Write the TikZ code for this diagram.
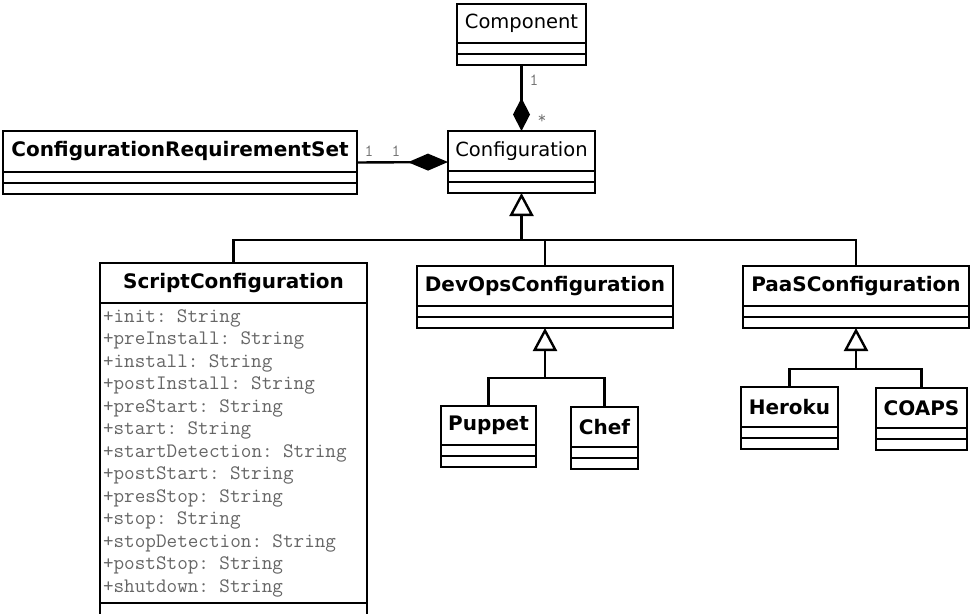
\documentclass[tikz,border=0pt]{standalone}
\usepackage{fontspec}
\setmainfont{DejaVu Sans}
\usetikzlibrary{arrows.meta, positioning, calc}

\begin{document}
\begin{tikzpicture}[
          x=1pt, y=-1pt,
          cls/.style={draw, line width=2.4pt, outer sep=0pt, inner sep=0pt, minimum height=40pt, font=\fontsize{19.5}{23}\selectfont},
          bcls/.style={cls, font=\fontsize{20}{23}\selectfont\bfseries},
          part/.style={draw, line width=2.4pt, outer sep=0pt, inner sep=0pt, minimum height=11pt},
          attrs/.style={draw, line width=2.4pt, outer sep=0pt, inner sep=3pt, text width=261pt, minimum height=300pt, align=left, text=black!60, font=\ttfamily\fontsize{20.6}{22.5}\selectfont},
          mult/.style={inner sep=0pt, text=black!55, font=\ttfamily\fontsize{17}{17}\selectfont},
          line/.style={line width=2.4pt},
          inherit/.style={line, -{Triangle[open, width=24pt, length=23pt]}},
          compose/.style={line, -{Diamond[width=17pt, length=#1]}}
        ]
          \useasboundingbox (0,0) rectangle (971,613);

          % top of the hierarchy
          \node[cls, minimum width=129pt, minimum height=39pt, anchor=north west] (component) at (457,4) {Component};
          \node[part, minimum width=129pt, below=0pt of component] (componentA) {};
          \node[part, minimum width=129pt, below=0pt of componentA] (componentO) {};

          \node[cls, minimum width=147pt, anchor=north west] (configuration) at (448,131) {Configuration};
          \node[part, minimum width=147pt, below=0pt of configuration] (configurationA) {};
          \node[part, minimum width=147pt, below=0pt of configurationA] (configurationO) {};

          \node[bcls, minimum width=354pt, minimum height=41pt, anchor=north west] (reqset) at (3,131) {ConfigurationRequirementSet};
          \node[part, minimum width=354pt, below=0pt of reqset] (reqsetA) {};
          \node[part, minimum width=354pt, below=0pt of reqsetA] (reqsetO) {};

          % subclasses
          \node[bcls, minimum width=267pt, anchor=north west] (script) at (100,263) {ScriptConfiguration};
          \node[attrs, below=0pt of script] (scriptA) {+init: String\\+preInstall: String\\+install: String\\+postInstall: String\\+preStart: String\\+start: String\\+startDetection: String\\+postStart: String\\+presStop: String\\+stop: String\\+stopDetection: String\\+postStop: String\\+shutdown: String};
          \node[part, minimum width=267pt, minimum height=24pt, below=0pt of scriptA] (scriptO) {};

          \node[bcls, minimum width=256pt, anchor=north west] (devops) at (417,266) {DevOpsConfiguration};
          \node[part, minimum width=256pt, below=0pt of devops] (devopsA) {};
          \node[part, minimum width=256pt, below=0pt of devopsA] (devopsO) {};

          \node[bcls, minimum width=226pt, anchor=north west] (paas) at (743,266) {PaaSConfiguration};
          \node[part, minimum width=226pt, below=0pt of paas] (paasA) {};
          \node[part, minimum width=226pt, below=0pt of paasA] (paasO) {};

          \node[bcls, minimum width=95pt, minimum height=39pt, anchor=north west] (puppet) at (441,406) {Puppet};
          \node[part, minimum width=95pt, below=0pt of puppet] (puppetA) {};
          \node[part, minimum width=95pt, below=0pt of puppetA] (puppetO) {};

          \node[bcls, minimum width=67pt, anchor=north west] (chef) at (571,407) {Chef};
          \node[part, minimum width=67pt, below=0pt of chef] (chefA) {};
          \node[part, minimum width=67pt, below=0pt of chefA] (chefO) {};

          \node[bcls, minimum width=97pt, anchor=north west] (heroku) at (741,387) {Heroku};
          \node[part, minimum width=97pt, below=0pt of heroku] (herokuA) {};
          \node[part, minimum width=97pt, below=0pt of herokuA] (herokuO) {};

          \node[bcls, minimum width=91pt, anchor=north west] (coaps) at (876,388) {COAPS};
          \node[part, minimum width=91pt, below=0pt of coaps] (coapsA) {};
          \node[part, minimum width=91pt, below=0pt of coapsA] (coapsO) {};

          % compositions
          \draw[compose=33pt] (componentO.south) -- (configuration.north);
          \draw[compose=40pt] ($(reqset.north east)!.5!(reqsetO.south east)$) -- ($(configuration.north west)!.5!(configurationO.south west)$);
          \node[mult] (compOne) at (534,80) {1};
          \node[mult] (compMany) at (542,119) {*};
          \node[mult] (reqOne) at (369,151) {1};
          \node[mult] (confOne) at (396,151) {1};

          % generalizations
          \coordinate (mainbus) at (521.5,240);
          \coordinate (devbus) at (545,378);
          \coordinate (paasbus) at (856,369);

          \draw[inherit] (mainbus) -- (configurationO.south);
          \draw[line] (script.north) |- (mainbus) -| (paas.north);
          \draw[line] (devops.north) -- (devops.north |- mainbus);

          \draw[inherit] (devbus) -- (devopsO.south);
          \draw[line] (puppet.north) |- (devbus) -| (chef.north);

          \draw[inherit] (paasbus) -- (paasO.south);
          \draw[line] (heroku.north) |- (paasbus) -| (coaps.north);
        \end{tikzpicture}
\end{document}
